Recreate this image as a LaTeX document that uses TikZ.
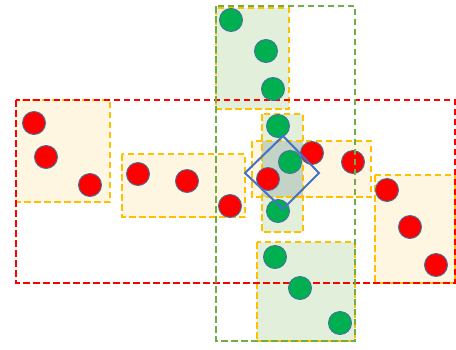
\documentclass[tikz,border=0pt]{standalone}
\usetikzlibrary{shapes.geometric}
\definecolor{yline}{HTML}{FFC000}
\definecolor{yfill}{HTML}{FFF6E1}
\definecolor{gfill}{HTML}{E2EFDA}
\definecolor{ovfill}{HTML}{C3D3C6}
\definecolor{rline}{HTML}{FF0000}
\definecolor{gline}{HTML}{70AD47}
\definecolor{dotedge}{HTML}{41719C}
\definecolor{gdot}{HTML}{00B050}
\definecolor{rdot}{HTML}{FF0000}
\definecolor{dia}{HTML}{4472C4}
\tikzset{
  dsh/.style={line width=2.4pt, dash pattern=on 6.5pt off 3.5pt},
  ybox/.style={dsh, draw=yline, fill=yfill},
  gbox/.style={dsh, draw=yline, fill=gfill},
  dotbase/.style={circle, minimum size=23pt, inner sep=0pt, draw=dotedge, line width=0.9pt},
  rd/.style={dotbase, fill=rdot},
  gd/.style={dotbase, fill=gdot},
}
\begin{document}
\begin{tikzpicture}[x=1pt,y=-1pt]
\useasboundingbox (0,0) rectangle (456,349);
% boxes
\draw[gbox] (216,8) rectangle (289,109);
\draw[ybox] (16,100) rectangle (110,202);
\draw[ybox] (122,154) rectangle (245,217);
\draw[ybox] (375,175) rectangle (455,283);
\draw[gbox] (257,242) rectangle (355,341);
\fill[gfill] (262,114) rectangle (303,232);
\fill[yfill] (252,141) rectangle (371,197);
\fill[ovfill] (262,141) rectangle (303,197);
\draw[dsh, draw=yline] (262,114) rectangle (303,232);
\draw[dsh, draw=yline] (252,141) rectangle (371,197);
% red region
\draw[dsh, draw=rline] (16,100) rectangle (455,283);
% dots
\node[rd] (r1) at (34,123) {};
\node[rd] (r2) at (46,157) {};
\node[rd] (r3) at (90,185) {};
\node[rd] (r4) at (138,174) {};
\node[rd] (r5) at (187,181) {};
\node[rd] (r6) at (230,206) {};
\node[rd] (r7) at (268,179) {};
\node[rd] (r8) at (312,153) {};
\node[rd] (r9) at (353,162) {};
\node[rd] (r10) at (387,190) {};
\node[rd] (r11) at (410,227) {};
\node[rd] (r12) at (436,265) {};
\node[gd] (g1) at (231,20) {};
\node[gd] (g2) at (266,51) {};
\node[gd] (g3) at (273,89) {};
\node[gd] (g4) at (278,126) {};
\node[gd] (g5) at (290,162) {};
\node[gd] (g6) at (278,211) {};
\node[gd] (g7) at (275,257) {};
\node[gd] (g8) at (300,288) {};
\node[gd] (g9) at (340,323) {};
% green region
\draw[dsh, draw=gline] (216,6) rectangle (355,341);
% diamond
\draw[dia, line width=2pt] (283,136) -- (319,173) -- (283,209) -- (245,173) -- cycle;
\end{tikzpicture}
\end{document}
